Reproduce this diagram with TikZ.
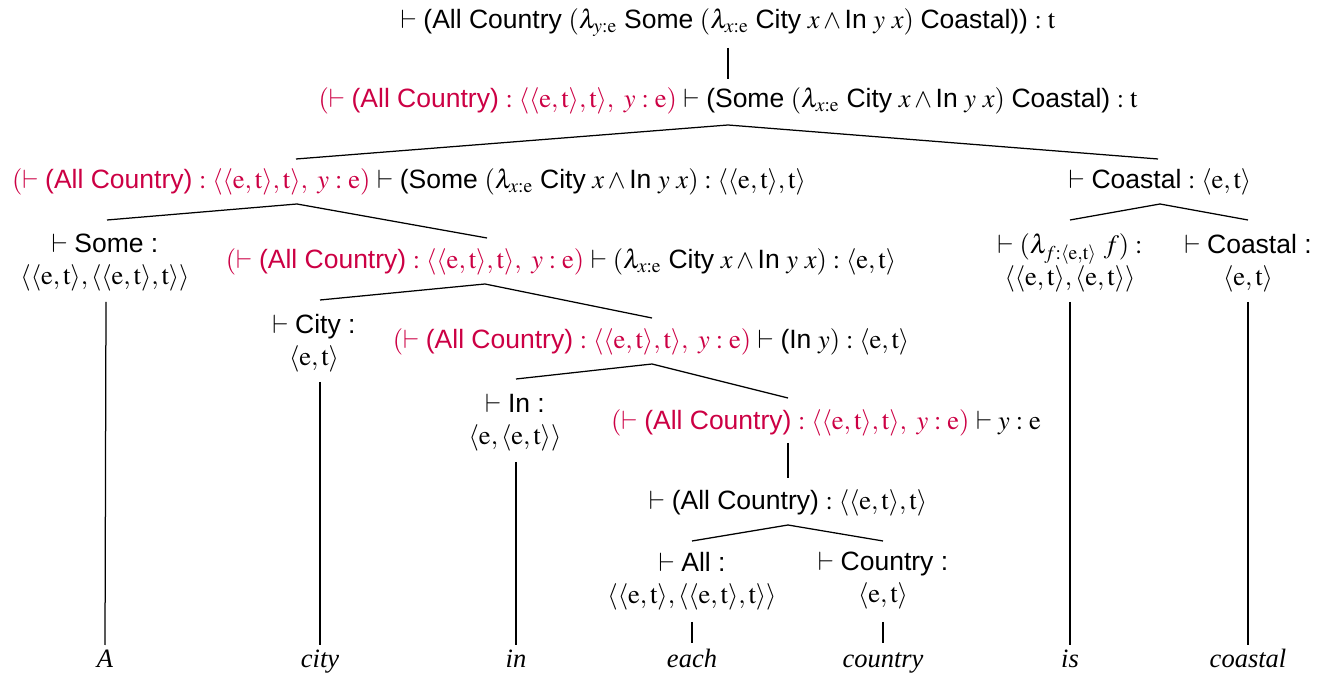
\documentclass[tikz,border=0pt]{standalone}
\usepackage{mathptmx}
\usepackage{fontspec}
\setmainfont{Liberation Serif}
\setsansfont{Liberation Sans}
\usetikzlibrary{calc}
\definecolor{hypred}{RGB}{204,0,68}
\newcommand{\cn}[1]{\textsf{#1}}
\newcommand{\tE}{\mathrm{e}}
\newcommand{\tT}{\mathrm{t}}
\newcommand{\tET}{\langle\tE,\tT\rangle}
\newcommand{\tETT}{\langle\langle\tE,\tT\rangle,\tT\rangle}
\newcommand{\hypo}{\textcolor{hypred}{$(\vdash$ \cn{(All Country)} $:\tETT,\ y:\tE)$}}
\begin{document}
\begin{tikzpicture}[x=0.4pt,y=-0.4pt,
  every node/.style={inner sep=0pt, font=\fontsize{10.6}{12.8}\selectfont},
  one/.style={anchor=base},
  two/.style={anchor=center, align=center},
  word/.style={anchor=base, font=\fontsize{10.6}{12.8}\selectfont\itshape},
  edge/.style={line width=0.5pt}]
\useasboundingbox (0,0) rectangle (1326,677);
% nodes
\node[one] (root) at (728,29) {$\vdash$ \cn{(All Country} $(\lambda_{y:\tE}$ \cn{Some} $(\lambda_{x:\tE}$ \cn{City} $x\wedge{}$\cn{In} $y\ x)$ \cn{Coastal))} $:\tT$};
\node[one] (n2) at (728,108) {\hypo{} $\vdash$ \cn{(Some} $(\lambda_{x:\tE}$ \cn{City} $x\wedge{}$\cn{In} $y\ x)$ \cn{Coastal)} $:\tT$};
\node[one] (n3) at (409,189) {\hypo{} $\vdash$ \cn{(Some} $(\lambda_{x:\tE}$ \cn{City} $x\wedge{}$\cn{In} $y\ x) :\tETT$};
\node[one] (n4) at (1160,189) {$\vdash$ \cn{Coastal} $:\tET$};
\node[two] (some) at (105,263) {$\vdash$ \cn{Some :}\\ $\langle\tET,\tETT\rangle$};
\node[one] (n5) at (561,269) {\hypo{} $\vdash (\lambda_{x:\tE}$ \cn{City} $x\wedge{}$\cn{In} $y\ x) :\tET$};
\node[two] (lam) at (1070,263) {$\vdash (\lambda_{f:\tET}\ f) :$\\ $\langle\tET,\tET\rangle$};
\node[two] (coastl) at (1248,263) {$\vdash$ \cn{Coastal :}\\ $\tET$};
\node[two] (city) at (314,343) {$\vdash$ \cn{City :}\\ $\tET$};
\node[one] (n6) at (651,349) {\hypo{} $\vdash$ \cn{(In} $y) :\tET$};
\node[two] (in) at (515,423) {$\vdash$ \cn{In :}\\ $\langle\tE,\tET\rangle$};
\node[one] (n7) at (826,430) {\hypo{} $\vdash y:\tE$};
\node[one] (n8) at (788,510) {$\vdash$ \cn{(All Country)} $:\tETT$};
\node[two] (all) at (692,581) {$\vdash$ \cn{All :}\\ $\langle\tET,\tETT\rangle$};
\node[two] (country) at (883,581) {$\vdash$ \cn{Country :}\\ $\tET$};
% words
\node[word] (wA) at (105,668) {A};
\node[word] (wcity) at (320,668) {city};
\node[word] (win) at (516,668) {in};
\node[word] (weach) at (692,668) {each};
\node[word] (wcountry) at (883,668) {country};
\node[word] (wis) at (1070,668) {is};
\node[word] (wcoastal) at (1248,668) {coastal};
% edges
\draw[edge] ($(root.base)+(0,19)$) -- ($(n2.base)+(0,-29)$);
\draw[edge] ($(n3.base)+(-113,-30)$) -- ($(n2.base)+(0,17)$) -- ($(n4.base)+(-2,-30)$);
\draw[edge] ($(some.center)+(2,-43)$) -- ($(n3.base)+(-112,15)$) -- ($(n5.base)+(-74,-31)$);
\draw[edge] ($(lam.center)+(0,-43)$) -- ($(n4.base)+(0,15)$) -- ($(coastl.center)+(0,-43)$);
\draw[edge] ($(city.center)+(6,-43)$) -- ($(n5.base)+(-76,15)$) -- ($(n6.base)+(1,-31)$);
\draw[edge] ($(in.center)+(1,-44)$) -- ($(n6.base)+(1,15)$) -- ($(n7.base)+(-38,-32)$);
\draw[edge] ($(n7.base)+(-38,13)$) -- ($(n8.base)+(0,-32)$);
\draw[edge] ($(all.center)+(0,-40)$) -- ($(n8.base)+(0,15)$) -- ($(country.center)+(0,-40)$);
\draw[edge] ($(some.center)+(1,39)$) -- ($(wA.base)+(0,-23)$);
\draw[edge] ($(city.center)+(6,39)$) -- ($(wcity.base)+(0,-23)$);
\draw[edge] ($(in.center)+(1,39)$) -- ($(win.base)+(0,-23)$);
\draw[edge] ($(all.center)+(0,41)$) -- ($(weach.base)+(0,-25)$);
\draw[edge] ($(country.center)+(0,41)$) -- ($(wcountry.base)+(0,-25)$);
\draw[edge] ($(lam.center)+(0,39)$) -- ($(wis.base)+(0,-23)$);
\draw[edge] ($(coastl.center)+(0,39)$) -- ($(wcoastal.base)+(0,-23)$);
\end{tikzpicture}
\end{document}
